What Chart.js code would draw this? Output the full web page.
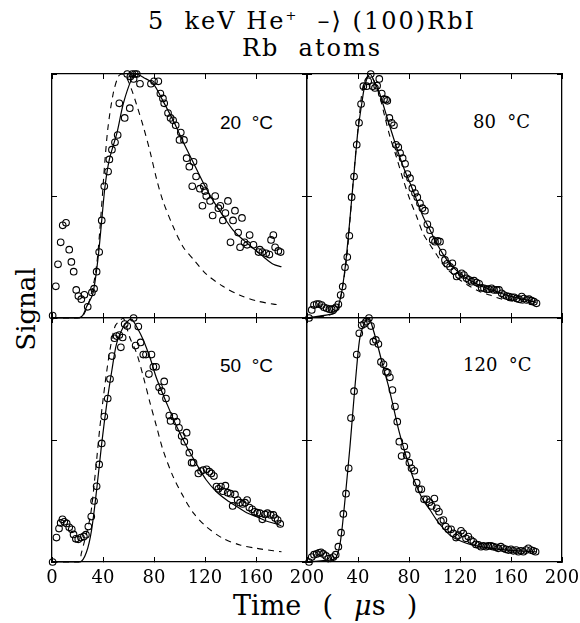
<!DOCTYPE html>
<html>
<head>
<meta charset="utf-8">
<script src="https://cdn.jsdelivr.net/npm/chart.js@4.4.1/dist/chart.umd.min.js"></script>
<style>
  body { margin: 0; background: #fff; width: 580px; height: 623px; position: relative; overflow: hidden; font-family: "DejaVu Serif", serif; color: #000; }
  canvas { position: absolute; }
  .txt { position: absolute; white-space: pre; line-height: 1; }
  .title { left: 22px; width: 580px; text-align: center; font-size: 24px; letter-spacing: 2px; }
  .lab { font-size: 18px; }
  .sans { font-family: "Liberation Sans", Arial, sans-serif; font-size: 19px; }
</style>
</head>
<body>
<div class="txt title" style="top:9px">5  keV He<sup style="font-size:13px">+</sup>  –⟩ (100)RbI</div>
<div class="txt title" style="top:36px">Rb  atoms</div>
<div class="txt" style="left:26px; top:309px; font-size:26px; transform:translate(-50%,-50%) rotate(-90deg)">Signal</div>
<div class="txt" style="left:233px; top:592px; font-size:27px; word-spacing:2px">Time  (  <i>μ</i>s  )</div>
<div class="txt sans" style="left:220px; top:113px">20  °C</div>
<div class="txt lab" style="left:473px; top:113px">80  °C</div>
<div class="txt sans" style="left:220px; top:356px">50  °C</div>
<div class="txt lab" style="left:463px; top:356px">120  °C</div>

<canvas id="p20"></canvas>
<canvas id="p80"></canvas>
<canvas id="p50"></canvas>
<canvas id="p120"></canvas>

<script>
// ---- 20 C ----
const time20 = [0.5, 3, 4.7, 6.8, 8.4, 11, 13.5, 15.2, 17, 19, 20.7, 23, 25.4, 28, 31.3, 33, 35, 37, 39, 41, 44, 45, 47, 49.4, 51.5, 52.8, 57, 59, 61, 61.5, 63, 64, 65, 66.5, 69, 77.6, 80, 83.4, 85, 87, 88, 91, 93, 95, 97, 100, 101, 103.5, 105.6, 107.7, 110, 111, 113, 116, 118, 119, 120, 121, 124, 126, 128, 130.5, 132, 134, 136, 138, 140, 142, 143.5, 146, 147.5, 149, 151, 153, 155, 158, 162, 163, 165, 168, 170.5, 171.8, 173.6, 175, 177.5, 179.3];
const sig20 = [0.01, 0.13, 0.22, 0.31, 0.38, 0.39, 0.28, 0.23, 0.19, 0.115, 0.09, 0.077, 0.095, 0.046, 0.105, 0.12, 0.19, 0.27, 0.40, 0.54, 0.60, 0.65, 0.69, 0.72, 0.75, 0.88, 0.82, 1.0, 0.86, 0.99, 1.0, 0.98, 1.0, 1.0, 0.96, 0.96, 0.97, 0.97, 0.92, 0.90, 0.88, 0.84, 0.82, 0.81, 0.79, 0.73, 0.76, 0.73, 0.655, 0.62, 0.54, 0.64, 0.58, 0.53, 0.46, 0.54, 0.52, 0.50, 0.48, 0.42, 0.50, 0.45, 0.46, 0.40, 0.43, 0.48, 0.31, 0.40, 0.44, 0.35, 0.29, 0.41, 0.31, 0.30, 0.34, 0.30, 0.27, 0.28, 0.27, 0.265, 0.26, 0.32, 0.34, 0.29, 0.275, 0.27];
const fitTime20 = [0, 20, 24, 27, 32, 36, 39, 41.6, 45, 51, 56, 62.5, 66, 72, 79.5, 87, 95, 103, 111, 119, 126.5, 134, 142, 150, 158, 166, 173.6, 180];
const fit20 = [0, 0, 0.01, 0.045, 0.1, 0.24, 0.40, 0.54, 0.65, 0.76, 0.88, 0.98, 1.0, 0.985, 0.96, 0.89, 0.81, 0.72, 0.635, 0.55, 0.48, 0.42, 0.36, 0.32, 0.285, 0.25, 0.22, 0.21];
const dashTime20 = [0, 22, 28, 33, 35.5, 37.5, 39.5, 41.6, 44, 48, 52, 55, 58, 62.5, 66, 71.6, 77, 82, 87, 95, 103, 111, 121, 134, 147, 160.5, 173.6, 180];
const dash20 = [0, 0, 0.05, 0.15, 0.24, 0.36, 0.5, 0.65, 0.785, 0.92, 0.99, 1.0, 0.99, 0.935, 0.88, 0.785, 0.68, 0.57, 0.48, 0.375, 0.29, 0.24, 0.18, 0.13, 0.094, 0.07, 0.057, 0.053];

// ---- 50 C ----
const time50 = [0.5, 3.5, 5.5, 6.8, 8.2, 9.6, 11.5, 13.5, 15.5, 16.9, 18.7, 20.6, 22.7, 25, 26.6, 28.5, 30.8, 33, 35, 37, 39, 41, 43.7, 45.5, 47, 49, 50.7, 52.8, 54, 55.4, 57, 59, 64, 65.6, 67.7, 69.5, 71.6, 73.7, 76, 78, 79.5, 81.6, 84, 86, 88, 89.4, 92, 93, 95.7, 97.8, 99.6, 101.7, 103.8, 105.6, 107.7, 109.5, 111, 114.8, 116.9, 118.7, 121.3, 123.4, 125, 127, 129, 130.5, 132.5, 134, 136, 137.8, 140, 141.7, 143.5, 145.6, 147.5, 149.5, 151.4, 153, 154.8, 157, 159, 161, 163, 165, 167, 169, 171.5, 173.6, 175, 177, 179];
const sig50 = [0, 0.10, 0.137, 0.16, 0.175, 0.165, 0.158, 0.142, 0.134, 0.113, 0.095, 0.093, 0.10, 0.105, 0.112, 0.145, 0.186, 0.25, 0.31, 0.40, 0.486, 0.596, 0.67, 0.75, 0.844, 0.917, 0.926, 0.93, 0.88, 0.92, 0.975, 0.967, 1.0, 0.887, 0.965, 0.90, 0.85, 0.85, 0.77, 0.85, 0.80, 0.80, 0.716, 0.70, 0.74, 0.67, 0.60, 0.578, 0.595, 0.575, 0.55, 0.516, 0.493, 0.53, 0.448, 0.407, 0.407, 0.363, 0.373, 0.377, 0.38, 0.37, 0.363, 0.352, 0.309, 0.30, 0.309, 0.29, 0.313, 0.284, 0.28, 0.23, 0.277, 0.254, 0.243, 0.238, 0.243, 0.254, 0.223, 0.216, 0.206, 0.202, 0.20, 0.175, 0.195, 0.20, 0.193, 0.193, 0.18, 0.172, 0.156];
const fitTime50 = [0, 22, 27, 31, 35, 39, 43, 47, 50.7, 56, 60, 62.5, 66.4, 71.6, 77, 82, 90, 97.8, 105.6, 113.5, 121, 129, 137, 145, 152.7, 160.5, 168, 176, 180];
const fit50 = [0, 0, 0.04, 0.13, 0.295, 0.486, 0.65, 0.787, 0.896, 0.964, 0.99, 0.995, 0.964, 0.91, 0.835, 0.753, 0.65, 0.555, 0.473, 0.40, 0.336, 0.288, 0.254, 0.227, 0.202, 0.186, 0.168, 0.156, 0.148];
const dashTime50 = [0, 21, 23, 30, 33.7, 37.6, 41.6, 45.5, 49.4, 53.3, 56, 61, 66.4, 71.6, 77, 82, 87, 95, 103, 111, 121, 134, 147.5, 160.5, 173.6, 180];
const dash50 = [0, 0, 0.035, 0.186, 0.35, 0.555, 0.73, 0.87, 0.965, 0.99, 1.0, 0.92, 0.855, 0.76, 0.65, 0.555, 0.46, 0.35, 0.268, 0.2, 0.145, 0.097, 0.07, 0.056, 0.046, 0.042];

// ---- 80 C ----
const time80 = [1.6, 3.7, 5.5, 7.6, 9.4, 11.5, 13.3, 15.4, 17.5, 19.3, 21.2, 22.7, 24.6, 26.4, 28, 29.8, 31.6, 33.2, 35, 36.9, 39, 40.8, 42.4, 44.2, 46.8, 48, 50, 51.5, 53.3, 55, 56.7, 58.6, 60.4, 62, 63, 64.6, 66.4, 68.2, 69.8, 71.6, 73, 75, 76.9, 78.7, 80.8, 82.6, 84.7, 86.5, 88.6, 90.5, 92.5, 94.4, 96.5, 98.6, 100.4, 102.5, 104.3, 106.4, 108.2, 110, 112.2, 114, 115.6, 117.4, 119.2, 121.3, 123.1, 125.2, 127, 129, 131, 133, 135, 137, 138.8, 141, 142.7, 144.8, 146.7, 148.8, 150.6, 152.7, 154.5, 156.6, 158.4, 160.5, 162.4, 164.4, 166.3, 168.4, 170.2, 172.3, 174.1, 176.2, 178, 180];
const sig80 = [0, 0.033, 0.053, 0.057, 0.057, 0.053, 0.044, 0.04, 0.036, 0.036, 0.038, 0.044, 0.056, 0.094, 0.129, 0.208, 0.25, 0.337, 0.495, 0.58, 0.71, 0.80, 0.877, 0.95, 0.95, 0.97, 1.0, 0.95, 0.943, 0.952, 0.98, 0.92, 0.897, 0.895, 0.89, 0.82, 0.80, 0.79, 0.71, 0.70, 0.676, 0.655, 0.632, 0.59, 0.573, 0.532, 0.512, 0.495, 0.47, 0.45, 0.44, 0.384, 0.36, 0.32, 0.313, 0.316, 0.313, 0.268, 0.238, 0.222, 0.21, 0.224, 0.193, 0.17, 0.176, 0.183, 0.176, 0.163, 0.156, 0.149, 0.153, 0.145, 0.14, 0.124, 0.122, 0.118, 0.118, 0.122, 0.115, 0.115, 0.115, 0.101, 0.094, 0.09, 0.088, 0.085, 0.085, 0.08, 0.077, 0.088, 0.08, 0.074, 0.077, 0.071, 0.067, 0.06];
const fitTime80 = [0, 22, 24, 27, 30, 32.4, 35, 37.6, 40, 43, 45.5, 49.4, 53.3, 57, 61, 65, 70, 75.5, 80.8, 86, 91, 96.5, 101.7, 107, 112, 117.4, 125, 133, 141, 148.8, 156.6, 164.4, 172, 180];
const fit80 = [0, 0.02, 0.04, 0.1, 0.21, 0.334, 0.484, 0.635, 0.77, 0.88, 0.956, 1.0, 0.963, 0.92, 0.853, 0.785, 0.703, 0.62, 0.553, 0.484, 0.416, 0.361, 0.306, 0.259, 0.224, 0.194, 0.163, 0.14, 0.122, 0.108, 0.094, 0.083, 0.074, 0.064];
const dashTime80 = [0, 22, 26, 31, 33.7, 36.3, 39, 41.6, 44, 48, 52, 57, 61, 65, 70, 75.5, 80.8, 86, 91, 96.5, 101.7, 107, 112, 120, 128, 135.7, 143.5, 151, 159, 167, 177.5, 180];
const dash80 = [0, 0.02, 0.074, 0.24, 0.40, 0.566, 0.72, 0.854, 0.95, 0.993, 0.977, 0.908, 0.826, 0.744, 0.662, 0.566, 0.484, 0.416, 0.347, 0.30, 0.259, 0.218, 0.19, 0.156, 0.129, 0.108, 0.094, 0.08, 0.071, 0.063, 0.053, 0.05];

// ---- 120 C ----
const time120 = [1.6, 3.7, 5.5, 7.6, 9.4, 11, 12.8, 14.9, 16.7, 18.6, 20.7, 22.5, 24.6, 26.7, 28.5, 30.6, 32.7, 34.5, 36.9, 39, 41, 42.9, 44.7, 46.3, 48.6, 50.2, 52, 54, 56, 58, 60, 62, 63.3, 65, 67, 69, 70.8, 72.4, 74.2, 76.3, 78.2, 80.3, 82, 84.2, 86, 87.8, 89.7, 91.8, 93.9, 96, 97.8, 99.9, 101.7, 103.5, 105, 107, 108.8, 110.8, 113, 114.8, 116.9, 118.7, 120.8, 122.6, 124.7, 126.5, 128.6, 130.5, 132.5, 134.4, 136.5, 138.3, 140.4, 142.2, 144.3, 146, 148.2, 150, 152, 154, 156, 158, 160, 161.8, 164, 165.8, 167.8, 169.7, 171.8, 173.6, 175.7, 177.5, 179.3];
const sig120 = [0, 0.02, 0.03, 0.033, 0.038, 0.04, 0.033, 0.025, 0.014, 0.015, 0.02, 0.03, 0.063, 0.12, 0.197, 0.28, 0.384, 0.59, 0.70, 0.85, 0.937, 0.97, 0.975, 0.985, 1.0, 0.967, 0.903, 0.91, 0.893, 0.82, 0.81, 0.78, 0.776, 0.757, 0.705, 0.637, 0.575, 0.493, 0.434, 0.473, 0.438, 0.407, 0.384, 0.374, 0.325, 0.298, 0.298, 0.257, 0.257, 0.245, 0.23, 0.26, 0.22, 0.206, 0.168, 0.172, 0.145, 0.134, 0.134, 0.117, 0.10, 0.11, 0.128, 0.117, 0.097, 0.104, 0.09, 0.083, 0.072, 0.07, 0.063, 0.066, 0.063, 0.066, 0.066, 0.063, 0.06, 0.056, 0.063, 0.056, 0.052, 0.049, 0.052, 0.046, 0.049, 0.042, 0.046, 0.042, 0.049, 0.056, 0.049, 0.046, 0.042];
const fitTime120 = [0, 20, 23, 26, 28.5, 31, 33.7, 36.3, 39, 41.6, 45.5, 48.6, 52, 56, 60, 64, 67.7, 71.6, 75.5, 79.5, 83.4, 87.3, 91, 96.5, 101.7, 107, 112, 117.4, 125, 133, 141, 151, 164.4, 177.5, 180];
const fit120 = [0, 0.01, 0.02, 0.077, 0.186, 0.322, 0.473, 0.637, 0.80, 0.923, 0.985, 1.0, 0.951, 0.876, 0.794, 0.719, 0.637, 0.548, 0.473, 0.404, 0.343, 0.295, 0.254, 0.213, 0.172, 0.138, 0.11, 0.093, 0.077, 0.066, 0.059, 0.052, 0.046, 0.042, 0.042];

const xTicks = [0, 40, 80, 120, 160, 200];

const PAD = 40;
const PANEL_W = 255, PANEL_H = 244;

function toPoints(xs, ys) {
    return xs.map((x, i) => ({x: x, y: ys[i]}));
}

function axis(position, isX, labels, hideZero) {
    const a = {
        type: 'linear',
        position: position,
        min: 0,
        max: isX ? 200 : 1,
        grid: { drawOnChartArea: false, tickLength: -5, color: '#000', lineWidth: 1 },
        border: { display: true, color: '#000', width: 1.3 },
        ticks: { display: false, stepSize: isX ? 40 : 0.5 },
        afterFit: (s) => {
            if (isX) s.height = labels ? 26 : 0;
            else s.width = 0;
        }
    };
    if (labels) {
        a.ticks = {
            display: true,
            stepSize: 40,
            color: '#000',
            padding: 11,
            maxRotation: 0,
            font: { family: "'DejaVu Serif', serif", size: 18 },
            // the right panel's 0 sits under the left panel's 200
            callback: (v) => (hideZero && v === 0) ? '' : (xTicks.includes(v) ? String(v) : '')
        };
    }
    return a;
}

function panel(id, left, top, labels, hideZero, pts, fit, dash) {
    const cv = document.getElementById(id);
    cv.width = PANEL_W + 2 * PAD;
    cv.height = PANEL_H + 2 * PAD + (labels ? 26 : 0);
    cv.style.left = (left - PAD) + 'px';
    cv.style.top = (top - PAD) + 'px';

    const datasets = [{
        data: pts,
        showLine: false,
        pointStyle: 'circle',
        pointRadius: 3.3,
        pointBorderWidth: 1.1,
        pointBorderColor: '#000',
        pointBackgroundColor: 'rgba(255,255,255,0)',
        clip: false
    }, {
        data: fit,
        showLine: true,
        borderColor: '#000',
        borderWidth: 1.2,
        pointRadius: 0,
        tension: 0.3,
        clip: false
    }];
    if (dash) {
        datasets.push({
            data: dash,
            showLine: true,
            borderColor: '#000',
            borderWidth: 1.1,
            borderDash: [6, 5],
            pointRadius: 0,
            tension: 0.3,
            clip: false
        });
    }

    return new Chart(cv, {
        type: 'scatter',
        data: { datasets: datasets },
        options: {
            responsive: false,
            animation: false,
            layout: { padding: PAD },
            plugins: { legend: { display: false }, tooltip: { enabled: false }, title: { display: false } },
            scales: {
                x: axis('bottom', true, labels, hideZero),
                x2: axis('top', true, false, false),
                y: axis('left', false, false, false),
                y2: axis('right', false, false, false)
            }
        }
    });
}

panel('p20', 52, 74, false, false, toPoints(time20, sig20), toPoints(fitTime20, fit20), toPoints(dashTime20, dash20));
panel('p80', 307, 74, false, false, toPoints(time80, sig80), toPoints(fitTime80, fit80), toPoints(dashTime80, dash80));
panel('p50', 52, 318, true, false, toPoints(time50, sig50), toPoints(fitTime50, fit50), toPoints(dashTime50, dash50));
panel('p120', 307, 318, true, true, toPoints(time120, sig120), toPoints(fitTime120, fit120), null);
</script>
</body>
</html>
